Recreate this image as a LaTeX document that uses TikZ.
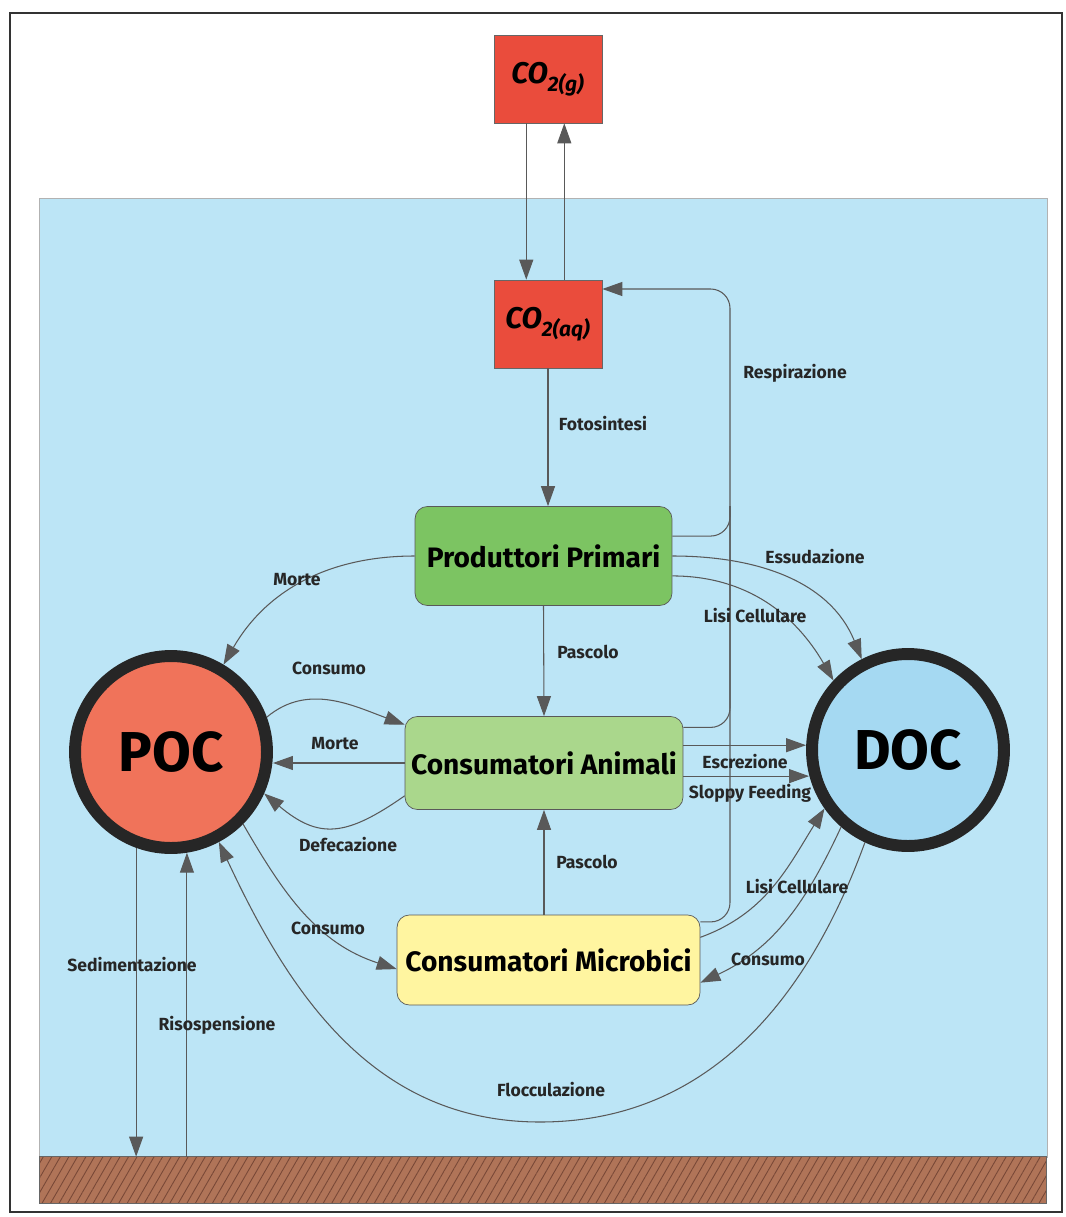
\documentclass[tikz,border=0pt]{standalone}
\usepackage{fontspec}
\setmainfont{Fira Sans}
\usepackage{tikz}
\usetikzlibrary{calc}
\usetikzlibrary{arrows.meta}
\usetikzlibrary{positioning,patterns.meta}
\definecolor{water}{RGB}{188,229,246}
\definecolor{cored}{RGB}{234,76,60}
\definecolor{prodgreen}{RGB}{124,196,98}
\definecolor{animgreen}{RGB}{170,215,140}
\definecolor{microyellow}{RGB}{255,245,160}
\definecolor{pocred}{RGB}{240,115,90}
\definecolor{docblue}{RGB}{165,217,242}
\definecolor{sedbrown}{RGB}{176,116,88}
\definecolor{sedline}{RGB}{120,72,55}

\begin{document}
\begin{tikzpicture}[
x=0.02cm,y=-0.02cm,
CObox/.style={draw=black!60,thin,fill=cored,minimum width=2.16cm,minimum height=1.76cm,inner sep=0pt,font=\bfseries\itshape\fontsize{17}{19}\selectfont},
Boxes/.style={draw=black!65,thin,rounded corners=7pt,inner sep=0pt,font=\bfseries\fontsize{16}{18}\selectfont},
Pools/.style={circle,draw=black!85,line width=6.8pt,minimum size=3.84cm,inner sep=0pt,font=\bfseries\fontsize{32}{36}\selectfont},
Flows/.style={draw=black!65,line width=0.6pt,-{Triangle[length=4mm,width=2.8mm]}},
Links/.style={draw=black!65,line width=0.6pt},
Labels/.style={font=\bfseries\fontsize{10}{12}\selectfont,text=black!85,inner sep=1pt}
]
\useasboundingbox (0,0) rectangle (1065,1217);

% frame, water and sediment
\draw[black!80,line width=0.9pt] (10,13) rectangle (1062,1212);
\fill[water] (39,198) rectangle (1047,1157);
\draw[black!30,thin] (39,198) rectangle (1047,1157);
\node[fill=sedbrown,minimum width=20.12cm,minimum height=0.92cm,inner sep=0pt] (sed) at (543,1180) {};
\fill[pattern={Lines[angle=60,distance=4.2pt,line width=0.5pt]},pattern color=sedline] (sed.north west) rectangle (sed.south east);
\draw[black!60,thin] (sed.north west) rectangle (sed.south east);

% carbon pools
\node[CObox] (co2g) at (548,79) {CO\textsubscript{2(g)}};
\node[CObox] (co2aq) at (548,324) {CO\textsubscript{2(aq)}};
\node[Boxes,fill=prodgreen,minimum width=5.14cm,minimum height=1.98cm] (prod) at (543.5,556) {Produttori Primari};
\node[Boxes,fill=animgreen,minimum width=5.56cm,minimum height=1.86cm] (anim) at (544,763) {Consumatori Animali};
\node[Boxes,fill=microyellow,minimum width=6.06cm,minimum height=1.8cm] (micro) at (548.5,960) {Consumatori Microbici};
\node[Pools,fill=pocred] (poc) at (171,752) {POC};
\node[Pools,fill=docblue] (doc) at (908,750) {DOC};

% gas exchange and photosynthesis
\draw[Flows] ($(co2g.south west)!.3!(co2g.south east)$) -- ($(co2aq.north west)!.3!(co2aq.north east)$);
\draw[Flows] ($(co2aq.north west)!.65!(co2aq.north east)$) -- ($(co2g.south west)!.65!(co2g.south east)$);
\draw[Flows] (co2aq.south) -- (co2aq.south |- prod.north);

% respiration
\coordinate (resp) at (730,289);
\draw[Flows,rounded corners=11pt] ($(prod.north east)!.3!(prod.south east)$) -| (resp) -- (co2aq.east |- resp);
\draw[Links,rounded corners=11pt] ($(anim.north east)!.12!(anim.south east)$) -| (resp |- prod.north);
\draw[Links,rounded corners=11pt] ($(micro.north east)!.08!(micro.south east)$) -| (resp |- prod.north);

% producers
\draw[Flows] (prod.west) to[out=180,in=60] (poc.59);
\draw[Flows] (prod.east) to[out=0,in=112] (doc.117);
\draw[Flows] ($(prod.east)!.4!(prod.south east)$) to[out=0,in=120] (doc.137);
\draw[Flows] (prod.south) -- (anim.north);

% animals
\draw[Flows] (poc.20) to[out=40,in=160] ($(anim.north west)!.09!(anim.south west)$);
\draw[Flows] (anim.west) -- (anim.west -| poc.east);
\draw[Flows] ($(anim.north west)!.85!(anim.south west)$) to[out=215,in=-40,looseness=1.3] (poc.-24);
\coordinate (esc) at ($(anim.north east)!.31!(anim.south east)$);
\coordinate (slop) at ($(anim.north east)!.64!(anim.south east)$);
\draw[Flows] (esc) -- (esc -| doc.west);
\draw[Flows] (slop) -- ($(slop -| doc.west)+(3,0)$);

% microbes
\draw[Flows] (anim.south |- micro.north) -- (anim.south);
\draw[Flows] ($(micro.north east)!.25!(micro.south east)$) to[out=20,in=238] (doc.215);
\draw[Flows] (doc.229) to[out=245,in=25] ($(micro.north east)!.75!(micro.south east)$);
\draw[Flows] (poc.-45) to[out=-60,in=162] ($(micro.north west)!.6!(micro.south west)$);

% flocculation, sedimentation
\coordinate (floc) at (540,1122);
\draw[Flows] (doc.245) to[out=250,in=0] (floc) to[out=180,in=-65] (poc.-62);
\draw[Flows] (poc.-110) -- (poc.-110 |- sed.north);
\draw[Flows] (poc.-81 |- sed.north) -- (poc.-81);

% labels
\node[Labels] (lFoto) at (603,424) {Fotosintesi};
\node[Labels] (lResp) at (795,373) {Respirazione};
\node[Labels] (lEssu) at (815,557) {Essudazione};
\node[Labels] (lMorteP) at (297,580) {Morte};
\node[Labels] (lLisiP) at (755,616) {Lisi Cellulare};
\node[Labels] (lPascP) at (588,652) {Pascolo};
\node[Labels] (lConsA) at (329,668) {Consumo};
\node[Labels] (lMorteA) at (335,744) {Morte};
\node[Labels] (lEscr) at (745,762) {Escrezione};
\node[Labels] (lSlop) at (750,793) {Sloppy Feeding};
\node[Labels] (lDefe) at (348,845) {Defecazione};
\node[Labels] (lPascM) at (587,862) {Pascolo};
\node[Labels] (lLisiM) at (797,887) {Lisi Cellulare};
\node[Labels] (lConsP) at (328,928) {Consumo};
\node[Labels] (lSedi) at (132,965) {Sedimentazione};
\node[Labels] (lConsD) at (768,959) {Consumo};
\node[Labels] (lRiso) at (217,1025) {Risospensione};
\node[Labels] (lFloc) at (551,1090) {Flocculazione};

\end{tikzpicture}
\end{document}
